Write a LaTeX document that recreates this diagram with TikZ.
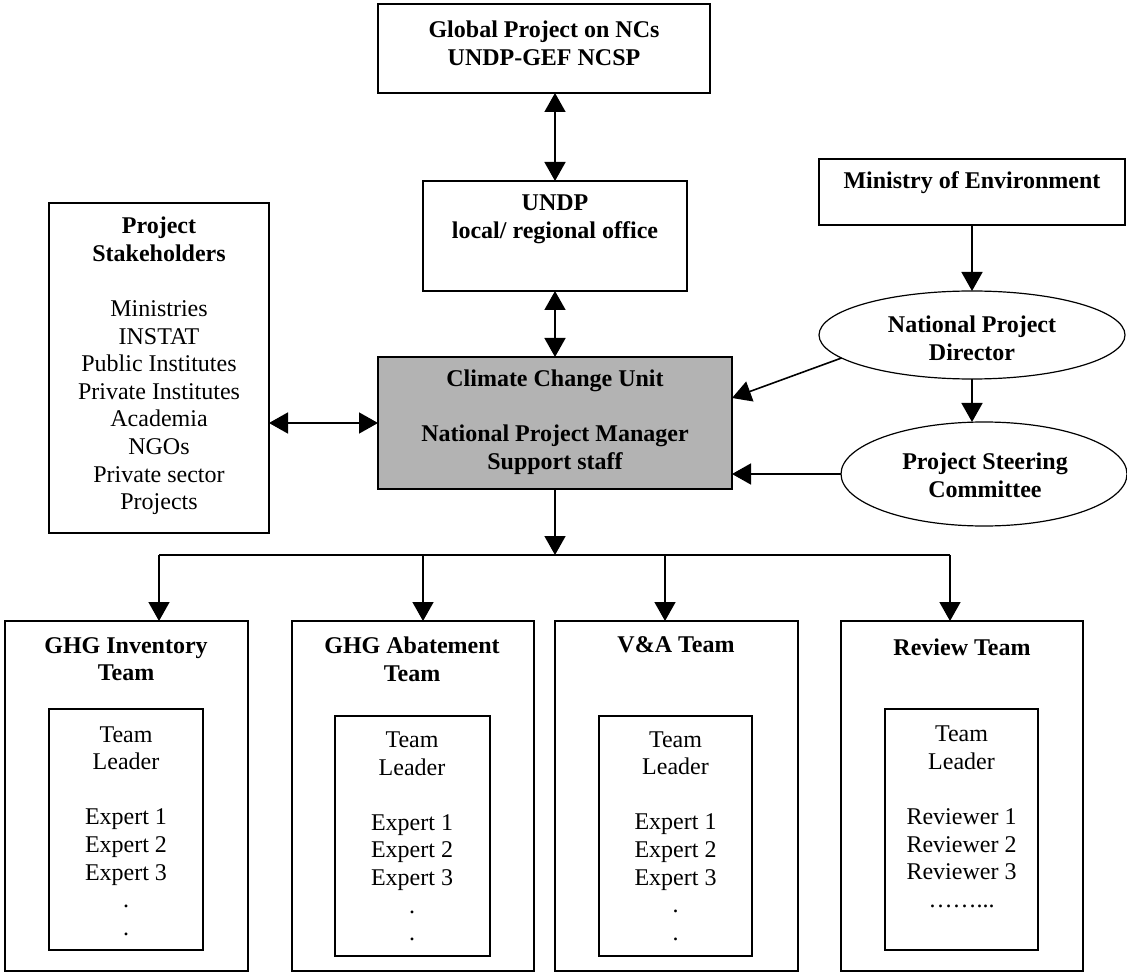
\documentclass[tikz,border=0pt]{standalone}
\usepackage{fontspec}
\setmainfont{Liberation Serif}
\usetikzlibrary{arrows.meta,shapes.geometric,calc}
\definecolor{ccugray}{RGB}{179,179,179}
\begin{document}
\begin{tikzpicture}[x=1pt,y=-1pt,
  box/.style={draw, line width=1.6pt, inner sep=0pt, outer sep=0pt, rectangle},
  oval/.style={draw, line width=1.2pt, ellipse, inner sep=0pt, outer sep=0pt},
  txt/.style={align=center, font=\fontsize{24}{27.6}\selectfont, inner sep=0pt},
  btxt/.style={align=center, font=\fontsize{24}{27.6}\selectfont\bfseries, inner sep=0pt},
  arr/.style={line width=1.6pt, -{Triangle[length=19pt,width=21pt]}},
  darr/.style={line width=1.6pt, {Triangle[length=19pt,width=21pt]}-{Triangle[length=19pt,width=21pt]}},
  ln/.style={line width=1.6pt}]
\useasboundingbox (0,0) rectangle (1127,973);

% top
\node[box, minimum width=332pt, minimum height=89pt] (glob) at (544,48.5) {};
\node[btxt] (globt) at (544,43.5) {Global Project on NCs\\UNDP-GEF NCSP};
\node[box, minimum width=264pt, minimum height=110pt] (undp) at (555,236) {};
\node[btxt] (undpt) at (555,219) {UNDP\\local/ regional office};
\node[box, fill=ccugray, minimum width=354pt, minimum height=132pt] (ccu) at (555,423) {};
\node[btxt] (ccut) at (555,422) {Climate Change Unit\\[27.6pt]National Project Manager\\Support staff};

% stakeholders
\node[box, minimum width=220pt, minimum height=330pt] (stake) at (159,368) {};
\node[txt] (staket) at (159,366) {\textbf{Project}\\\textbf{Stakeholders}\\[27.6pt]Ministries\\INSTAT\\Public Institutes\\Private Institutes\\Academia\\NGOs\\Private sector\\Projects};

% right side
\node[box, minimum width=306pt, minimum height=66pt] (min) at (972,192) {};
\node[btxt] (mint) at (972,183) {Ministry of Environment};
\node[oval, minimum width=306pt, minimum height=88pt] (npd) at (972,335) {};
\node[btxt] (npdt) at (972,338) {National Project\\Director};
\node[oval, minimum width=286pt, minimum height=104pt] (psc) at (984,474) {};
\node[btxt] (psct) at (985,475) {Project Steering\\Committee};

% teams
\node[box, minimum width=243pt, minimum height=350pt] (t1) at (126.5,796) {};
\node[btxt] (t1t) at (126,659) {GHG Inventory\\Team};
\node[box, minimum width=154pt, minimum height=241pt] (t1i) at (126,829.5) {};
\node[txt] (t1l) at (126,831) {Team\\Leader\\[27.6pt]Expert 1\\Expert 2\\Expert 3\\.\\.};

\node[box, minimum width=242pt, minimum height=350pt] (t2) at (413,796) {};
\node[btxt] (t2t) at (412,659) {GHG Abatement\\Team};
\node[box, minimum width=155pt, minimum height=240pt] (t2i) at (412.5,836) {};
\node[txt] (t2l) at (412,836.5) {Team\\Leader\\[27.6pt]Expert 1\\Expert 2\\Expert 3\\.\\.};

\node[box, minimum width=243pt, minimum height=350pt] (t3) at (676.5,796) {};
\node[btxt] (t3t) at (676,645) {V\&A Team};
\node[box, minimum width=153pt, minimum height=240pt] (t3i) at (675.5,836) {};
\node[txt] (t3l) at (675.5,836) {Team\\Leader\\[27.6pt]Expert 1\\Expert 2\\Expert 3\\.\\.};

\node[box, minimum width=242pt, minimum height=350pt] (t4) at (962,796) {};
\node[btxt] (t4t) at (962,647) {Review Team};
\node[box, minimum width=153pt, minimum height=241pt] (t4i) at (961.5,829.5) {};
\node[txt] (t4l) at (961.5,817) {Team\\Leader\\[27.6pt]Reviewer 1\\Reviewer 2\\Reviewer 3\\……...};

% connectors
\draw[darr] (glob.south -| undp.north) -- (undp.north);
\draw[darr] (undp.south) -- (ccu.north);
\draw[darr] (stake.east |- ccu.west) -- (ccu.west);
\draw[arr] (min.south) -- (npd.north);
\draw[arr] (npd.south) -- (npd.south |- psc.north);
\draw[arr] (npd.190) -- ([yshift=25pt]ccu.east);
\draw[arr] (psc.west) -- (psc.west -| ccu.east);

\coordinate (bus) at (555,555);
\coordinate (b1) at (159,555);
\coordinate (b2) at (423,555);
\coordinate (b3) at (665,555);
\coordinate (b4) at (950,555);
\draw[arr] (ccu.south) -- (bus);
\draw[ln] (b1) -- (b4);
\draw[arr] (b1) -- (b1 |- t1.north);
\draw[arr] (b2) -- (b2 |- t2.north);
\draw[arr] (b3) -- (b3 |- t3.north);
\draw[arr] (b4) -- (b4 |- t4.north);
\end{tikzpicture}
\end{document}
